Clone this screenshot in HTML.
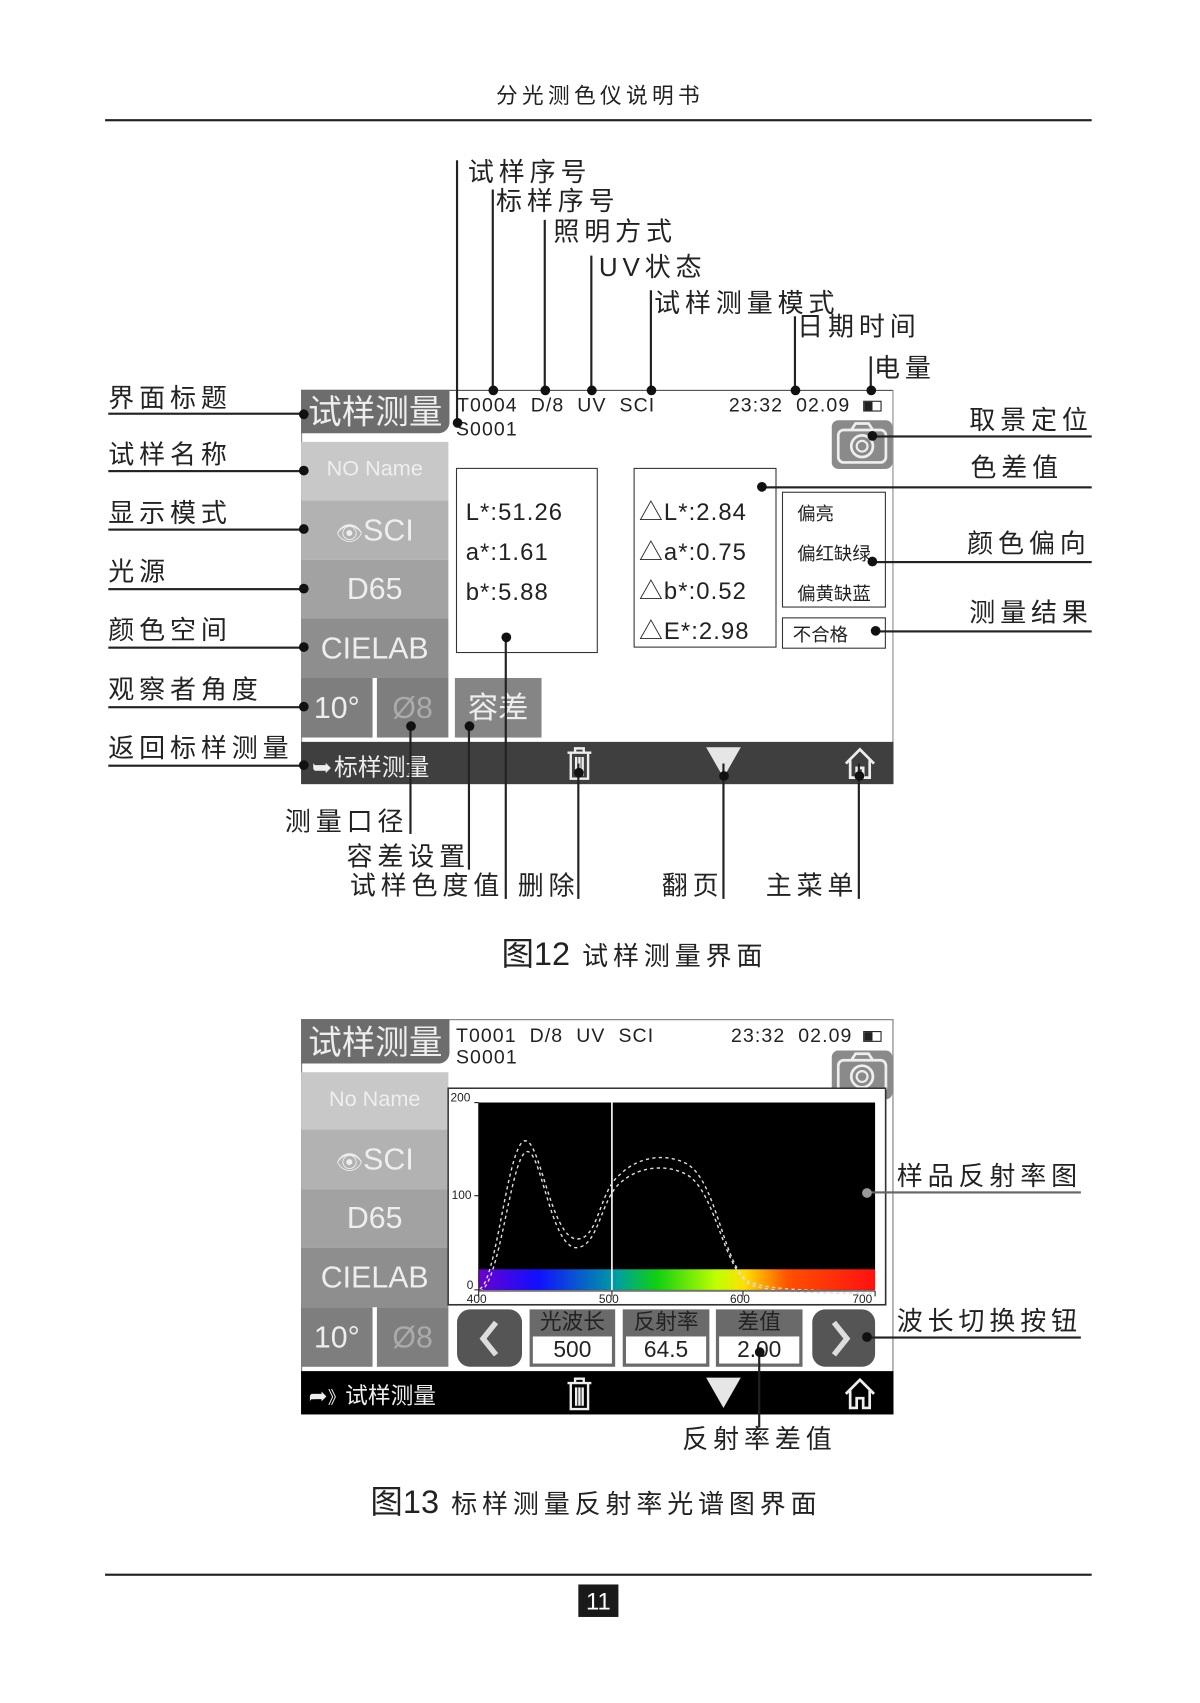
<!DOCTYPE html>
<html><head><meta charset="utf-8"><style>
html,body{margin:0;padding:0;background:#fff;}
body{width:1200px;height:1702px;overflow:hidden;position:relative;}
#w{position:absolute;left:0;top:0;width:1108px;height:1572px;transform:scale(1.08303);transform-origin:0 0;font-family:"Liberation Sans","Noto Sans CJK SC",sans-serif;color:#222;}
.a{position:absolute;white-space:nowrap;}
.lb{font-size:24px;letter-spacing:4.5px;line-height:26px;}
.h{position:absolute;height:1.5px;background:#222;}
.v{position:absolute;width:1.5px;background:#222;}
.d{position:absolute;width:9px;height:9px;border-radius:50%;background:#111;margin:-4.5px 0 0 -4.5px;}
.box{position:absolute;border:1.5px solid #333;box-sizing:border-box;}
.cell{position:absolute;color:#eee;text-align:center;box-sizing:border-box;}
.sm{font-size:18px;color:#222;letter-spacing:1px;}
</style></head><body><div id="w">

<div class="a" style="left:0;width:1108px;top:72px;text-align:center;font-size:20px;letter-spacing:4px;">分光测色仪说明书</div>
<div class="h" style="left:97px;width:911px;top:110px;"></div>

<!-- SCREEN 1 -->
<div class="box" style="left:278px;top:360px;width:547px;height:364px;border:1px solid #888;"></div>
<div class="h" style="left:278px;width:546px;top:360px;height:1px;background:#555"></div>
<div class="cell" style="left:278px;top:360px;width:137px;height:40px;background:#6d6d6d;font-size:31px;line-height:42px;border-radius:0 0 10px 0;">试样测量</div>
<div class="a sm" style="left:422px;top:364px;">T0004&nbsp; D/8&nbsp; UV&nbsp; SCI</div>
<div class="a sm" style="left:421px;top:386px;">S0001</div>
<div class="a sm" style="left:673px;top:364px;">23:32&nbsp; 02.09</div>
<div class="a" style="left:797px;top:370px;width:15px;height:8px;border:1px solid #222;background:linear-gradient(90deg,#222 50%,#fff 50%);"></div>
<div class="a" style="left:768px;top:388px;width:56px;height:45px;background:#8a8a8a;border-radius:6px;"></div>
<svg class="a" style="left:768px;top:388px" width="56" height="45"><rect x="6" y="9" width="44" height="30" rx="5" fill="none" stroke="#eee" stroke-width="2.5"/><path d="M18 9 L22 3 H34 L38 9" fill="none" stroke="#eee" stroke-width="2.5"/><circle cx="28" cy="24" r="10" fill="none" stroke="#eee" stroke-width="2.5"/><circle cx="28" cy="24" r="5" fill="none" stroke="#eee" stroke-width="2"/></svg>

<div class="cell" style="left:278px;top:408px;width:136px;height:54px;background:#c8c8c8;font-size:20px;line-height:50px;">NO Name</div>
<div class="cell" style="left:278px;top:462px;width:136px;height:55px;background:#b2b2b2;font-size:28px;line-height:55px;"><span style="font-size:20px">👁</span>SCI</div>
<div class="cell" style="left:278px;top:517px;width:136px;height:54px;background:#a2a2a2;font-size:28px;line-height:54px;">D65</div>
<div class="cell" style="left:278px;top:571px;width:136px;height:55px;background:#8e8e8e;font-size:28px;line-height:55px;">CIELAB</div>
<div class="cell" style="left:278px;top:626px;width:66px;height:55px;background:#7e7e7e;font-size:28px;line-height:55px;">10°</div>
<div class="cell" style="left:348px;top:626px;width:66px;height:55px;background:#7e7e7e;font-size:28px;line-height:55px;color:#aaa;">Ø8</div>
<div class="cell" style="left:420px;top:626px;width:80px;height:55px;background:#858585;font-size:28px;line-height:55px;">容差</div>

<div class="box" style="left:421px;top:432px;width:131px;height:171px;"></div>
<div class="a" style="left:430px;top:454px;font-size:22px;line-height:37px;letter-spacing:1px;">L*:51.26<br>a*:1.61<br>b*:5.88</div>
<div class="box" style="left:585px;top:432px;width:132px;height:166px;"></div>
<div class="a" style="left:590px;top:455px;font-size:22px;line-height:36.5px;letter-spacing:1px;">△L*:2.84<br>△a*:0.75<br>△b*:0.52<br>△E*:2.98</div>
<div class="box" style="left:722px;top:454px;width:96px;height:107px;"></div>
<div class="a" style="left:736px;top:456px;font-size:17px;line-height:37px;">偏亮<br>偏红缺绿<br>偏黄缺蓝</div>
<div class="box" style="left:722px;top:570px;width:96px;height:29px;"></div>
<div class="a" style="left:732px;top:572px;font-size:17px;">不合格</div>

<div class="a" style="left:278px;top:685px;width:547px;height:39px;background:#3f3f3f;"></div>
<div class="a" style="left:288px;top:691px;font-size:22px;color:#eee;">➥<span style="margin-left:2px">标样测量</span></div>

<!-- screen1 callouts left -->
<div class="a lb" style="left:100px;top:356px;">界面标题</div><div class="h" style="left:100px;width:180px;top:381px;"></div><div class="d" style="left:280px;top:382px"></div>
<div class="a lb" style="left:100px;top:408px;">试样名称</div><div class="h" style="left:100px;width:180px;top:434px;"></div><div class="d" style="left:280px;top:434px"></div>
<div class="a lb" style="left:100px;top:462px;">显示模式</div><div class="h" style="left:100px;width:180px;top:488px;"></div><div class="d" style="left:280px;top:488px"></div>
<div class="a lb" style="left:100px;top:516px;">光源</div><div class="h" style="left:100px;width:180px;top:543px;"></div><div class="d" style="left:280px;top:543px"></div>
<div class="a lb" style="left:100px;top:570px;">颜色空间</div><div class="h" style="left:100px;width:180px;top:597px;"></div><div class="d" style="left:280px;top:597px"></div>
<div class="a lb" style="left:100px;top:625px;">观察者角度</div><div class="h" style="left:100px;width:180px;top:652px;"></div><div class="d" style="left:280px;top:652px"></div>
<div class="a lb" style="left:100px;top:679px;">返回标样测量</div><div class="h" style="left:100px;width:180px;top:706px;"></div><div class="d" style="left:280px;top:706px"></div>

<!-- right -->
<div class="a lb" style="left:895px;top:376px;">取景定位</div><div class="h" style="left:805px;width:203px;top:402px;"></div><div class="d" style="left:805px;top:402px"></div>
<div class="a lb" style="left:896px;top:420px;">色差值</div><div class="h" style="left:703px;width:305px;top:449px;"></div><div class="d" style="left:703px;top:449px"></div>
<div class="a lb" style="left:893px;top:490px;">颜色偏向</div><div class="h" style="left:805px;width:203px;top:518px;"></div><div class="d" style="left:805px;top:518px"></div>
<div class="a lb" style="left:895px;top:554px;">测量结果</div><div class="h" style="left:808px;width:200px;top:582px;"></div><div class="d" style="left:808px;top:582px"></div>

<!-- top -->
<div class="a lb" style="left:432px;top:147px;">试样序号</div><div class="v" style="left:421px;top:148px;height:242px;"></div><div class="d" style="left:422px;top:390px"></div>
<div class="a lb" style="left:458px;top:174px;">标样序号</div><div class="v" style="left:454px;top:175px;height:185px;"></div><div class="d" style="left:455px;top:360px"></div>
<div class="a lb" style="left:511px;top:202px;">照明方式</div><div class="v" style="left:502px;top:203px;height:157px;"></div><div class="d" style="left:503px;top:360px"></div>
<div class="a lb" style="left:553px;top:235px;">UV状态</div><div class="v" style="left:545px;top:236px;height:124px;"></div><div class="d" style="left:546px;top:360px"></div>
<div class="a lb" style="left:604px;top:268px;">试样测量模式</div><div class="v" style="left:600px;top:268px;height:92px;"></div><div class="d" style="left:601px;top:360px"></div>
<div class="a lb" style="left:736px;top:290px;">日期时间</div><div class="v" style="left:733px;top:292px;height:68px;"></div><div class="d" style="left:734px;top:360px"></div>
<div class="a lb" style="left:807px;top:328px;">电量</div><div class="v" style="left:803px;top:329px;height:31px;"></div><div class="d" style="left:804px;top:360px"></div>

<!-- trash/triangle/home s1 -->
<svg class="a" style="left:520px;top:688px" width="30" height="34"><path d="M4 7 H26 M11 7 V3 H19 V7 M7 7 V31 H23 V7 M12 11 V28 M15 11 V28 M18 11 V28" fill="none" stroke="#eee" stroke-width="2.2"/></svg>
<svg class="a" style="left:650px;top:688px" width="36" height="32"><path d="M2 2 H34 L18 30 Z" fill="#e6e6e6"/></svg>
<svg class="a" style="left:778px;top:689px" width="32" height="32"><path d="M3 16 L16 3 L29 16 M7 13 V29 H13 V20 H19 V29 H25 V13" fill="none" stroke="#eee" stroke-width="2.5"/></svg>

<!-- bottom callouts -->
<div class="a lb" style="left:263px;top:747px;">测量口径</div><div class="v" style="left:378px;top:670px;height:100px;"></div><div class="d" style="left:379px;top:670px"></div>
<div class="a lb" style="left:320px;top:779px;">容差设置</div><div class="v" style="left:432px;top:670px;height:133px;"></div><div class="d" style="left:433px;top:670px"></div>
<div class="a lb" style="left:323px;top:806px;">试样色度值</div><div class="v" style="left:466px;top:588px;height:242px;"></div><div class="d" style="left:467px;top:588px"></div>
<div class="a lb" style="left:478px;top:806px;">删除</div><div class="v" style="left:533px;top:705px;height:125px;"></div><div class="d" style="left:534px;top:713px"></div>
<div class="a lb" style="left:611px;top:806px;">翻页</div><div class="v" style="left:667px;top:705px;height:125px;"></div><div class="d" style="left:668px;top:716px"></div>
<div class="a lb" style="left:707px;top:806px;">主菜单</div><div class="v" style="left:792px;top:705px;height:125px;"></div><div class="d" style="left:793px;top:716px"></div>

<div class="a" style="left:463px;top:856px;font-size:24px;letter-spacing:4.5px;"><span style="font-size:30px;letter-spacing:0">图12</span> 试样测量界面</div>

<!-- SCREEN 2 -->
<div class="box" style="left:278px;top:941px;width:547px;height:365px;border:1.5px solid #777;"></div>
<div class="cell" style="left:278px;top:941px;width:137px;height:41px;background:#6d6d6d;font-size:31px;line-height:44px;border-radius:0 0 10px 0;">试样测量</div>
<div class="a sm" style="left:421px;top:946px;">T0001&nbsp; D/8&nbsp; UV&nbsp; SCI</div>
<div class="a sm" style="left:421px;top:966px;">S0001</div>
<div class="a sm" style="left:675px;top:946px;">23:32&nbsp; 02.09</div>
<div class="a" style="left:797px;top:952px;width:15px;height:8px;border:1px solid #222;background:linear-gradient(90deg,#222 50%,#fff 50%);"></div>
<div class="a" style="left:768px;top:970px;width:56px;height:45px;background:#8a8a8a;border-radius:6px;"></div>
<svg class="a" style="left:768px;top:970px" width="56" height="45"><rect x="6" y="9" width="44" height="30" rx="5" fill="none" stroke="#eee" stroke-width="2.5"/><path d="M18 9 L22 3 H34 L38 9" fill="none" stroke="#eee" stroke-width="2.5"/><circle cx="28" cy="24" r="10" fill="none" stroke="#eee" stroke-width="2.5"/><circle cx="28" cy="24" r="5" fill="none" stroke="#eee" stroke-width="2"/></svg>

<div class="cell" style="left:278px;top:990px;width:136px;height:53px;background:#c8c8c8;font-size:20px;line-height:50px;">No Name</div>
<div class="cell" style="left:278px;top:1043px;width:136px;height:55px;background:#b2b2b2;font-size:28px;line-height:55px;"><span style="font-size:20px">👁</span>SCI</div>
<div class="cell" style="left:278px;top:1098px;width:136px;height:54px;background:#a2a2a2;font-size:28px;line-height:54px;">D65</div>
<div class="cell" style="left:278px;top:1152px;width:136px;height:55px;background:#8e8e8e;font-size:28px;line-height:55px;">CIELAB</div>
<div class="cell" style="left:278px;top:1207px;width:66px;height:55px;background:#7e7e7e;font-size:28px;line-height:55px;">10°</div>
<div class="cell" style="left:348px;top:1207px;width:66px;height:55px;background:#7e7e7e;font-size:28px;line-height:55px;color:#aaa;">Ø8</div>

<!-- chart -->
<svg class="a" style="left:413px;top:1004px" width="406" height="202">
<defs><linearGradient id="sp" x1="0" x2="1"><stop offset="0" stop-color="#6a00d0"/><stop offset="0.15" stop-color="#1010ff"/><stop offset="0.35" stop-color="#00a0a0"/><stop offset="0.45" stop-color="#10d010"/><stop offset="0.6" stop-color="#c0ff00"/><stop offset="0.67" stop-color="#ffe000"/><stop offset="0.78" stop-color="#ff5000"/><stop offset="1" stop-color="#ff1010"/></linearGradient></defs>
<rect x="0.75" y="0.75" width="404" height="200" fill="#fff" stroke="#333" stroke-width="1.5"/>
<rect x="29" y="14" width="366" height="173" fill="#000"/>
<rect x="29" y="168" width="366" height="19" fill="url(#sp)"/>
<line x1="152" y1="14" x2="152" y2="187" stroke="#fff" stroke-width="1.5"/>
<path d="M30 186 C45 180 55 60 70 50 C85 40 95 140 120 140 C140 140 140 95 160 80 C175 65 200 60 220 70 C250 85 255 170 280 180 C300 188 350 188 395 188" fill="none" stroke="#ddd" stroke-width="1.3" stroke-dasharray="3 3"/>
<path d="M30 188 C48 184 58 70 72 60 C86 50 95 150 120 148 C140 146 142 102 160 88 C175 74 200 70 220 80 C250 95 255 178 285 184 C310 190 350 190 395 190" fill="none" stroke="#ddd" stroke-width="1.3" stroke-dasharray="3 3"/>
<line x1="29" y1="14" x2="29" y2="188" stroke="#222" stroke-width="1"/>
<line x1="29" y1="188" x2="395" y2="188" stroke="#222" stroke-width="1"/>
<g stroke="#222" stroke-width="1">
<line x1="25" y1="14" x2="29" y2="14"/><line x1="25" y1="100" x2="29" y2="100"/><line x1="25" y1="187" x2="29" y2="187"/>
<line x1="29" y1="188" x2="29" y2="193"/><line x1="152" y1="188" x2="152" y2="193"/><line x1="273" y1="188" x2="273" y2="193"/><line x1="395" y1="188" x2="395" y2="193"/>
</g>
<g font-size="11" fill="#222" font-family="Liberation Sans,sans-serif">
<text x="3" y="13">200</text><text x="4" y="103">100</text><text x="18" y="186">0</text>
<text x="18" y="199">400</text><text x="140" y="199">500</text><text x="261" y="199">600</text><text x="374" y="199">700</text>
</g></svg>

<!-- controls -->
<div class="a" style="left:422px;top:1209px;width:60px;height:53px;background:#555;border-radius:12px;"></div>
<svg class="a" style="left:422px;top:1209px" width="60" height="53"><path d="M36 12 L24 27 L36 42" fill="none" stroke="#ddd" stroke-width="5"/></svg>
<div class="a" style="left:750px;top:1209px;width:58px;height:53px;background:#555;border-radius:12px;"></div>
<svg class="a" style="left:750px;top:1209px" width="58" height="53"><path d="M20 12 L32 27 L20 42" fill="none" stroke="#ddd" stroke-width="5"/></svg>
<div class="cell" style="left:489px;top:1209px;width:79px;height:53px;background:#6a6a6a;"><div style="color:#222;font-size:20px;line-height:25px;">光波长</div><div style="background:#fff;margin:0 3px;height:25px;font-size:21px;color:#222;line-height:25px;">500</div></div>
<div class="cell" style="left:575px;top:1209px;width:80px;height:53px;background:#6a6a6a;"><div style="color:#222;font-size:20px;line-height:25px;">反射率</div><div style="background:#fff;margin:0 3px;height:25px;font-size:21px;color:#222;line-height:25px;">64.5</div></div>
<div class="cell" style="left:661px;top:1209px;width:80px;height:53px;background:#6a6a6a;"><div style="color:#222;font-size:20px;line-height:25px;">差值</div><div style="background:#fff;margin:0 3px;height:25px;font-size:21px;color:#222;line-height:25px;">2.00</div></div>

<div class="a" style="left:278px;top:1266px;width:547px;height:40px;background:#000;"></div>
<div class="a" style="left:285px;top:1273px;font-size:21px;color:#eee;">➦<span style="font-size:16px">》</span>试样测量</div>
<svg class="a" style="left:520px;top:1270px" width="30" height="34"><path d="M4 7 H26 M11 7 V3 H19 V7 M7 7 V31 H23 V7 M12 11 V28 M15 11 V28 M18 11 V28" fill="none" stroke="#eee" stroke-width="2.2"/></svg>
<svg class="a" style="left:650px;top:1270px" width="36" height="32"><path d="M2 2 H34 L18 30 Z" fill="#e6e6e6"/></svg>
<svg class="a" style="left:778px;top:1271px" width="32" height="32"><path d="M3 16 L16 3 L29 16 M7 13 V29 H13 V20 H19 V29 H25 V13" fill="none" stroke="#eee" stroke-width="2.5"/></svg>

<div class="a lb" style="left:828px;top:1074px;">样品反射率图</div><div class="h" style="left:800px;width:198px;top:1100px;background:#666;"></div><div class="d" style="left:800px;top:1101px;background:#999"></div>
<div class="a lb" style="left:828px;top:1208px;">波长切换按钮</div><div class="h" style="left:800px;width:198px;top:1234px;"></div><div class="d" style="left:800px;top:1234px"></div>
<div class="a lb" style="left:630px;top:1317px;">反射率差值</div><div class="v" style="left:700px;top:1247px;height:71px;"></div><div class="d" style="left:701px;top:1248px"></div>

<div class="a" style="left:342px;top:1362px;font-size:24px;letter-spacing:4.5px;"><span style="font-size:30px;letter-spacing:0">图13</span> 标样测量反射率光谱图界面</div>

<div class="h" style="left:97px;width:911px;top:1453px;"></div>
<div class="a" style="left:534px;top:1463px;width:37px;height:30px;background:#1a1a1a;color:#fff;font-size:22px;line-height:31px;text-align:center;">11</div>
</div></body></html>
